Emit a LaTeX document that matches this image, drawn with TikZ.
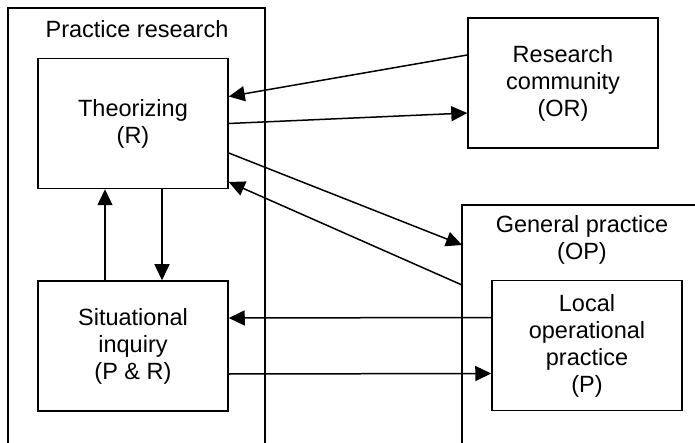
\documentclass[tikz,border=0pt]{standalone}
\usepackage{fontspec}
\setmainfont{Liberation Sans}
\usepackage{tikz}
\usetikzlibrary{arrows.meta,positioning,calc}

\begin{document}
\begin{tikzpicture}[x=1pt,y=-1pt,line width=1.5pt,>={Triangle[length=16pt,width=15pt]},
	main/.style={draw,align=center,minimum width=190pt,minimum height=130pt,inner sep=0pt,font=\fontsize{23.5}{27}\selectfont},
	lbl/.style={align=center,inner sep=0pt,font=\fontsize{23.5}{27}\selectfont}]
	\useasboundingbox (0,0) rectangle (695,443);
	\draw (8,450) -- (8,8) -- (265,8) -- (265,450);
	\draw (462,450) -- (462,205) -- (700,205);
	\node[lbl] (0) at (137,29) {Practice research};
	\node[lbl] (6) at (582,240) {General practice\\(OP)};
	\node[main] (1) at (133,123.5) {Theorizing\\(R)};
	\node[main] (2) [below=91pt of 1] {Situational\\inquiry\\(P \& R)};
	\node[main] (3) at (563,83) {Research\\community\\(OR)};
	\node[main] (4) at (587,345.5) {Local\\operational\\practice\\(P)};
	\coordinate (g1) at (462,245);
	\coordinate (g2) at (462,285);
	\draw[->] ([yshift=28pt]3.west) -- ([yshift=27pt]1.east);
	\draw[->] (1.east) -- ([yshift=-30pt]3.west);
	\draw[->] ([yshift=-29.5pt]1.east) -- (g1);
	\draw[->] (g2) -- ([yshift=-58.5pt]1.east);
	\draw[->] ([yshift=28pt]4.west) -- ([yshift=28pt]2.east);
	\draw[->] ([yshift=-28pt]2.east) -- ([yshift=-28pt]4.west);
	\draw[->] ([xshift=-28pt]2.north) -- ([xshift=-28pt]1.south);
	\draw[->] ([xshift=29pt]1.south) -- ([xshift=29pt]2.north);
\end{tikzpicture}
\end{document}
